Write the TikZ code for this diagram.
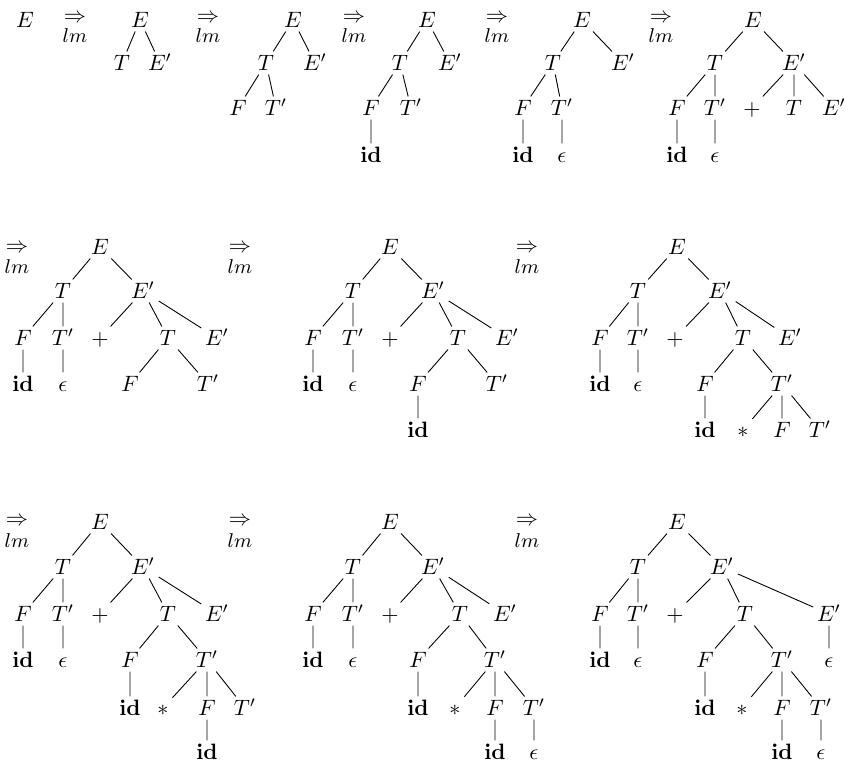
\documentclass[tikz,border=0pt]{standalone}
\begin{document}
\begin{tikzpicture}[x=0.45pt,y=-0.45pt,
  lab/.style={inner sep=1.5pt, text height=7pt, text depth=0pt},
  arr/.style={inner sep=0pt},
  lmlab/.style={inner sep=0pt, font=\small},
  every path/.style={line width=0.4pt}]
\useasboundingbox (0,0) rectangle (852,766);
% ---------- row 1 ----------
\node[lab] (s0) at (25,20) {$E$};
\node[arr] (r1) at (75,18) {$\Rightarrow$}; \node[lmlab] (l1) at (75,36) {$lm$};
\node[arr] (r2) at (208,18) {$\Rightarrow$}; \node[lmlab] (l2) at (208,36) {$lm$};
\node[arr] (r3) at (354,18) {$\Rightarrow$}; \node[lmlab] (l3) at (354,36) {$lm$};
\node[arr] (r4) at (497,18) {$\Rightarrow$}; \node[lmlab] (l4) at (497,36) {$lm$};
\node[arr] (r5) at (661,18) {$\Rightarrow$}; \node[lmlab] (l5) at (661,36) {$lm$};
% tree 1
\node[lab] (a1) at (140,20) {$E$};
\node[lab] (a2) at (122,63) {$T$};
\node[lab] (a3) at (160,63) {$E'$};
\draw (a1)--(a2) (a1)--(a3);
% tree 2
\node[lab] (b1) at (293,20) {$E$};
\node[lab] (b2) at (266,63) {$T$};
\node[lab] (b3) at (315,63) {$E'$};
\node[lab] (b4) at (238,108) {$F$};
\node[lab] (b5) at (276,108) {$T'$};
\draw (b1)--(b2) (b1)--(b3) (b2)--(b4) (b2)--(b5);
% tree 3
\node[lab] (c1) at (427,20) {$E$};
\node[lab] (c2) at (400,63) {$T$};
\node[lab] (c3) at (450,63) {$E'$};
\node[lab] (c4) at (371,108) {$F$};
\node[lab] (c5) at (411,108) {$T'$};
\node[lab] (c6) at (371,155) {$\mathbf{id}$};
\draw (c1)--(c2) (c1)--(c3) (c2)--(c4) (c2)--(c5) (c4)--(c6);
% tree 4
\node[lab] (d1) at (582,20) {$E$};
\node[lab] (d2) at (553,63) {$T$};
\node[lab] (d3) at (623,63) {$E'$};
\node[lab] (d4) at (523,108) {$F$};
\node[lab] (d5) at (562,108) {$T'$};
\node[lab] (d6) at (523,155) {$\mathbf{id}$};
\node[lab] (d7) at (562,155) {$\epsilon$};
\draw (d1)--(d2) (d1)--(d3) (d2)--(d4) (d2)--(d5) (d4)--(d6) (d5)--(d7);
% tree 5
\node[lab] (e1) at (753,20) {$E$};
\node[lab] (e2) at (715,63) {$T$};
\node[lab] (e3) at (794,63) {$E'$};
\node[lab] (e4) at (677,108) {$F$};
\node[lab] (e5) at (715,108) {$T'$};
\node[lab] (e6) at (752,108) {$+$};
\node[lab] (e7) at (794,108) {$T$};
\node[lab] (e8) at (834,108) {$E'$};
\node[lab] (e9) at (677,155) {$\mathbf{id}$};
\node[lab] (e10) at (715,155) {$\epsilon$};
\draw (e1)--(e2) (e1)--(e3) (e2)--(e4) (e2)--(e5) (e3)--(e6) (e3)--(e7) (e3)--(e8) (e4)--(e9) (e5)--(e10);
% ---------- row 2 ----------
\node[arr] (r6) at (17,248) {$\Rightarrow$}; \node[lmlab] (l6) at (17,267) {$lm$};
\node[arr] (r7) at (240,248) {$\Rightarrow$}; \node[lmlab] (l7) at (240,267) {$lm$};
\node[arr] (r8) at (527,248) {$\Rightarrow$}; \node[lmlab] (l8) at (527,267) {$lm$};
% tree 6
\node[lab] (f1) at (100,247) {$E$};
\node[lab] (f2) at (63,291) {$T$};
\node[lab] (f3) at (143,291) {$E'$};
\node[lab] (f4) at (23,338) {$F$};
\node[lab] (f5) at (63,338) {$T'$};
\node[lab] (f6) at (100,338) {$+$};
\node[lab] (f7) at (168,338) {$T$};
\node[lab] (f8) at (217,338) {$E'$};
\node[lab] (f9) at (23,384) {$\mathbf{id}$};
\node[lab] (f10) at (63,384) {$\epsilon$};
\node[lab] (f11) at (130,384) {$F$};
\node[lab] (f12) at (208,384) {$T'$};
\draw (f1)--(f2) (f1)--(f3) (f2)--(f4) (f2)--(f5) (f3)--(f6) (f3)--(f7) (f3)--(f8)
      (f4)--(f9) (f5)--(f10) (f7)--(f11) (f7)--(f12);
% tree 7
\node[lab] (g1) at (390,247) {$E$};
\node[lab] (g2) at (353,291) {$T$};
\node[lab] (g3) at (433,291) {$E'$};
\node[lab] (g4) at (313,338) {$F$};
\node[lab] (g5) at (353,338) {$T'$};
\node[lab] (g6) at (390,338) {$+$};
\node[lab] (g7) at (458,338) {$T$};
\node[lab] (g8) at (507,338) {$E'$};
\node[lab] (g9) at (313,384) {$\mathbf{id}$};
\node[lab] (g10) at (353,384) {$\epsilon$};
\node[lab] (g11) at (418,384) {$F$};
\node[lab] (g12) at (497,384) {$T'$};
\node[lab] (g13) at (418,430) {$\mathbf{id}$};
\draw (g1)--(g2) (g1)--(g3) (g2)--(g4) (g2)--(g5) (g3)--(g6) (g3)--(g7) (g3)--(g8)
      (g4)--(g9) (g5)--(g10) (g7)--(g11) (g7)--(g12) (g11)--(g13);
% tree 8
\node[lab] (h1) at (677,247) {$E$};
\node[lab] (h2) at (638,291) {$T$};
\node[lab] (h3) at (720,291) {$E'$};
\node[lab] (h4) at (600,338) {$F$};
\node[lab] (h5) at (638,338) {$T'$};
\node[lab] (h6) at (675,338) {$+$};
\node[lab] (h7) at (743,338) {$T$};
\node[lab] (h8) at (790,338) {$E'$};
\node[lab] (h9) at (600,384) {$\mathbf{id}$};
\node[lab] (h10) at (638,384) {$\epsilon$};
\node[lab] (h11) at (705,384) {$F$};
\node[lab] (h12) at (782,384) {$T'$};
\node[lab] (h13) at (705,430) {$\mathbf{id}$};
\node[lab] (h14) at (743,430) {$*$};
\node[lab] (h15) at (782,430) {$F$};
\node[lab] (h16) at (820,430) {$T'$};
\draw (h1)--(h2) (h1)--(h3) (h2)--(h4) (h2)--(h5) (h3)--(h6) (h3)--(h7) (h3)--(h8)
      (h4)--(h9) (h5)--(h10) (h7)--(h11) (h7)--(h12) (h11)--(h13)
      (h12)--(h14) (h12)--(h15) (h12)--(h16);
% ---------- row 3 ----------
\node[arr] (r9) at (17,521) {$\Rightarrow$}; \node[lmlab] (l9) at (17,541) {$lm$};
\node[arr] (r10) at (240,521) {$\Rightarrow$}; \node[lmlab] (l10) at (240,541) {$lm$};
\node[arr] (r11) at (527,521) {$\Rightarrow$}; \node[lmlab] (l11) at (527,541) {$lm$};
% tree 9
\node[lab] (i1) at (100,522) {$E$};
\node[lab] (i2) at (63,567) {$T$};
\node[lab] (i3) at (143,567) {$E'$};
\node[lab] (i4) at (23,614) {$F$};
\node[lab] (i5) at (63,614) {$T'$};
\node[lab] (i6) at (100,614) {$+$};
\node[lab] (i7) at (168,614) {$T$};
\node[lab] (i8) at (217,614) {$E'$};
\node[lab] (i9) at (23,660) {$\mathbf{id}$};
\node[lab] (i10) at (63,660) {$\epsilon$};
\node[lab] (i11) at (130,660) {$F$};
\node[lab] (i12) at (207,660) {$T'$};
\node[lab] (i13) at (130,708) {$\mathbf{id}$};
\node[lab] (i14) at (163,708) {$*$};
\node[lab] (i15) at (207,708) {$F$};
\node[lab] (i16) at (245,708) {$T'$};
\node[lab] (i17) at (207,752) {$\mathbf{id}$};
\draw (i1)--(i2) (i1)--(i3) (i2)--(i4) (i2)--(i5) (i3)--(i6) (i3)--(i7) (i3)--(i8)
      (i4)--(i9) (i5)--(i10) (i7)--(i11) (i7)--(i12) (i11)--(i13)
      (i12)--(i14) (i12)--(i15) (i12)--(i16) (i15)--(i17);
% tree 10
\node[lab] (j1) at (390,522) {$E$};
\node[lab] (j2) at (353,567) {$T$};
\node[lab] (j3) at (433,567) {$E'$};
\node[lab] (j4) at (313,614) {$F$};
\node[lab] (j5) at (353,614) {$T'$};
\node[lab] (j6) at (390,614) {$+$};
\node[lab] (j7) at (460,614) {$T$};
\node[lab] (j8) at (505,614) {$E'$};
\node[lab] (j9) at (313,660) {$\mathbf{id}$};
\node[lab] (j10) at (353,660) {$\epsilon$};
\node[lab] (j11) at (418,660) {$F$};
\node[lab] (j12) at (495,660) {$T'$};
\node[lab] (j13) at (418,708) {$\mathbf{id}$};
\node[lab] (j14) at (455,708) {$*$};
\node[lab] (j15) at (495,708) {$F$};
\node[lab] (j16) at (534,708) {$T'$};
\node[lab] (j17) at (495,752) {$\mathbf{id}$};
\node[lab] (j18) at (534,752) {$\epsilon$};
\draw (j1)--(j2) (j1)--(j3) (j2)--(j4) (j2)--(j5) (j3)--(j6) (j3)--(j7) (j3)--(j8)
      (j4)--(j9) (j5)--(j10) (j7)--(j11) (j7)--(j12) (j11)--(j13)
      (j12)--(j14) (j12)--(j15) (j12)--(j16) (j15)--(j17) (j16)--(j18);
% tree 11
\node[lab] (k1) at (677,522) {$E$};
\node[lab] (k2) at (638,567) {$T$};
\node[lab] (k3) at (722,567) {$E'$};
\node[lab] (k4) at (600,614) {$F$};
\node[lab] (k5) at (638,614) {$T'$};
\node[lab] (k6) at (675,614) {$+$};
\node[lab] (k7) at (745,614) {$T$};
\node[lab] (k8) at (829,614) {$E'$};
\node[lab] (k9) at (600,660) {$\mathbf{id}$};
\node[lab] (k10) at (638,660) {$\epsilon$};
\node[lab] (k11) at (705,660) {$F$};
\node[lab] (k12) at (782,660) {$T'$};
\node[lab] (k13) at (829,660) {$\epsilon$};
\node[lab] (k14) at (705,708) {$\mathbf{id}$};
\node[lab] (k15) at (742,708) {$*$};
\node[lab] (k16) at (782,708) {$F$};
\node[lab] (k17) at (821,708) {$T'$};
\node[lab] (k18) at (782,752) {$\mathbf{id}$};
\node[lab] (k19) at (821,752) {$\epsilon$};
\draw (k1)--(k2) (k1)--(k3) (k2)--(k4) (k2)--(k5) (k3)--(k6) (k3)--(k7) (k3)--(k8)
      (k4)--(k9) (k5)--(k10) (k7)--(k11) (k7)--(k12) (k8)--(k13)
      (k11)--(k14) (k12)--(k15) (k12)--(k16) (k12)--(k17) (k16)--(k18) (k17)--(k19);
\end{tikzpicture}
\end{document}
